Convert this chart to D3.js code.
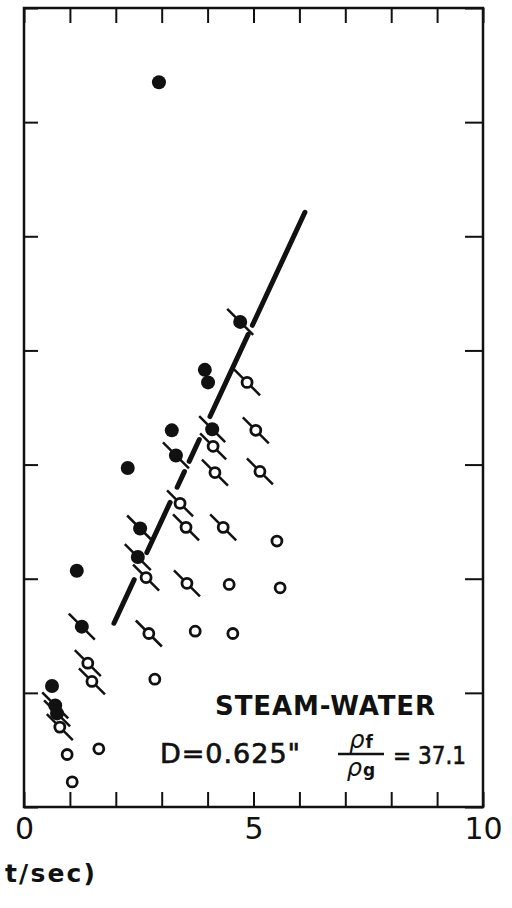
<!DOCTYPE html>
<html>
<head>
<meta charset="utf-8">
<script src="https://cdn.jsdelivr.net/npm/d3@7"></script>
<style>
  body { margin: 0; background: #fff; }
  svg { display: block; }
  text { font-family: "DejaVu Sans", sans-serif; fill: #111; }
</style>
</head>
<body>
<svg width="512" height="908"></svg>
<script>
// **** data ****

// filled circles, no flag
var filledX = [2.94, 3.94, 4.01, 3.22, 2.26, 1.15, 0.61];
var filledY = [6.35, 3.83, 3.72, 3.30, 2.97, 2.07, 1.06];

// filled circles with a slash
var filledSlashX = [4.71, 4.10, 3.31, 2.53, 2.48, 1.26, 0.68, 0.72];
var filledSlashY = [4.25, 3.31, 3.08, 2.44, 2.19, 1.58, 0.89, 0.82];

// open circles with a slash
var openSlashX = [4.86, 5.05, 4.12, 5.14, 4.16, 3.40, 3.53, 4.34, 2.66, 3.55, 2.72, 1.39, 1.48, 0.78];
var openSlashY = [3.72, 3.30, 3.16, 2.94, 2.93, 2.66, 2.45, 2.45, 2.01, 1.96, 1.52, 1.26, 1.10, 0.70];

// open circles, no flag
var openX = [5.51, 4.47, 5.58, 3.73, 4.55, 2.85, 0.94, 1.63, 1.05];
var openY = [2.33, 1.95, 1.92, 1.54, 1.52, 1.12, 0.46, 0.51, 0.22];

// broken fit line: two ends, and the drawn pieces as fractions along it
var fitX = [1.96, 6.12];
var fitY = [1.61, 5.21];
var fitPieces = [[0, 0.106], [0.172, 0.294], [0.331, 0.369], [0.394, 0.447], [0.503, 0.703], [0.725, 1]];

var xTicks = [0, 1, 2, 3, 4, 5, 6, 7, 8, 9, 10];
var xTickLabels = {0: "0", 5: "5", 10: "10"};
var yTicks = [0, 1, 2, 3, 4, 5, 6, 7];

// **** scales ****

var xScale = d3.scaleLinear().domain([0, 10]).range([24, 483]);
var yScale = d3.scaleLinear().domain([0, 7]).range([807, 8]);

var svg = d3.select('svg');

function zip(xs, ys) {
    return xs.map(function(v, i) { return {x: v, y: ys[i]}; });
}

// **** frame and ticks ****

function styleAxis(g) {
    g.select('.domain').remove();
    g.selectAll('.tick line').attr('stroke', '#111').attr('stroke-width', 2);
}

svg.append('g')
    .attr('transform', 'translate(0,807)')
    .call(d3.axisBottom(xScale).tickValues(xTicks).tickSize(-15).tickPadding(10)
        .tickFormat(function(d) { return xTickLabels[d] || ''; }))
    .call(styleAxis)
    .selectAll('text')
    .attr('font-size', 30)
    .attr('font-family', '"DejaVu Sans", sans-serif')
    .attr('fill', '#111')
    .attr('dy', '0.72em');

svg.append('g')
    .attr('transform', 'translate(0,8)')
    .call(d3.axisTop(xScale).tickValues(xTicks).tickSize(-15).tickFormat(''))
    .call(styleAxis);

svg.append('g')
    .attr('transform', 'translate(24,0)')
    .call(d3.axisLeft(yScale).tickValues(yTicks).tickSize(-14).tickFormat(''))
    .call(styleAxis);

svg.append('g')
    .attr('transform', 'translate(483,0)')
    .call(d3.axisRight(yScale).tickValues(yTicks).tickSize(-18).tickFormat(''))
    .call(styleAxis);

svg.append('rect')
    .attr('x', xScale(0)).attr('y', yScale(7))
    .attr('width', xScale(10) - xScale(0))
    .attr('height', yScale(0) - yScale(7))
    .attr('fill', 'none')
    .attr('stroke', '#111')
    .attr('stroke-width', 2.5);

// **** fit line ****

svg.selectAll('line.fit')
    .data(fitPieces)
    .enter()
    .append('line')
    .attr('class', 'fit')
    .attr('x1', function(d) { return xScale(fitX[0] + d[0] * (fitX[1] - fitX[0])); })
    .attr('y1', function(d) { return yScale(fitY[0] + d[0] * (fitY[1] - fitY[0])); })
    .attr('x2', function(d) { return xScale(fitX[0] + d[1] * (fitX[1] - fitX[0])); })
    .attr('y2', function(d) { return yScale(fitY[0] + d[1] * (fitY[1] - fitY[0])); })
    .attr('stroke', '#111')
    .attr('stroke-width', 5)
    .attr('stroke-linecap', 'round');

// **** points ****

function drawSlashes(points) {
    svg.append('g').selectAll('line')
        .data(points)
        .enter()
        .append('line')
        .attr('x1', function(d) { return xScale(d.x) - 13; })
        .attr('y1', function(d) { return yScale(d.y) - 13; })
        .attr('x2', function(d) { return xScale(d.x) + 13; })
        .attr('y2', function(d) { return yScale(d.y) + 13; })
        .attr('stroke', '#111')
        .attr('stroke-width', 2.5);
}

function drawFilled(points) {
    svg.append('g').selectAll('circle')
        .data(points)
        .enter()
        .append('circle')
        .attr('cx', function(d) { return xScale(d.x); })
        .attr('cy', function(d) { return yScale(d.y); })
        .attr('r', 7)
        .attr('fill', '#111');
}

function drawOpen(points) {
    svg.append('g').selectAll('circle')
        .data(points)
        .enter()
        .append('circle')
        .attr('cx', function(d) { return xScale(d.x); })
        .attr('cy', function(d) { return yScale(d.y); })
        .attr('r', 5)
        .attr('fill', '#fff')
        .attr('stroke', '#111')
        .attr('stroke-width', 2.8);
}

var filledPts = zip(filledX, filledY);
var filledSlashPts = zip(filledSlashX, filledSlashY);
var openSlashPts = zip(openSlashX, openSlashY);
var openPts = zip(openX, openY);

drawSlashes(filledSlashPts);
drawSlashes(openSlashPts);
drawFilled(filledPts);
drawFilled(filledSlashPts);
drawOpen(openSlashPts);
drawOpen(openPts);

// **** labels ****

// only the tail of the x label shows in the picture
svg.append('text')
    .attr('x', 5).attr('y', 882)
    .attr('font-size', 25)
    .attr('font-weight', 'bold')
    .attr('textLength', 90)
    .attr('lengthAdjust', 'spacing')
    .text('t/sec)');

svg.append('text')
    .attr('x', 215).attr('y', 715)
    .attr('font-size', 26)
    .attr('font-weight', 'bold')
    .attr('textLength', 220)
    .attr('lengthAdjust', 'spacing')
    .text('STEAM-WATER');

svg.append('text')
    .attr('x', 160).attr('y', 763)
    .attr('font-size', 27)
    .attr('stroke', '#111').attr('stroke-width', 0.7)
    .attr('textLength', 140)
    .attr('lengthAdjust', 'spacing')
    .text('D=0.625"');

var frac = svg.append('g');
frac.append('line')
    .attr('x1', 338).attr('x2', 384)
    .attr('y1', 754).attr('y2', 754)
    .attr('stroke', '#111').attr('stroke-width', 2.5);

var num = frac.append('text')
    .attr('x', 361).attr('y', 748)
    .attr('text-anchor', 'middle')
    .attr('font-size', 24);
num.append('tspan').attr('font-style', 'italic').text('ρ');
num.append('tspan').attr('font-size', 17).attr('font-weight', 'bold').attr('dx', 1).text('f');

var den = frac.append('text')
    .attr('x', 361).attr('y', 776)
    .attr('text-anchor', 'middle')
    .attr('font-size', 24);
den.append('tspan').attr('font-style', 'italic').text('ρ');
den.append('tspan').attr('font-size', 17).attr('font-weight', 'bold').attr('dx', 1).text('g');

svg.append('text')
    .attr('x', 393).attr('y', 764)
    .attr('font-size', 25)
    .attr('stroke', '#111').attr('stroke-width', 0.6)
    .attr('textLength', 73)
    .attr('lengthAdjust', 'spacingAndGlyphs')
    .text('= 37.1');
</script>
</body>
</html>
